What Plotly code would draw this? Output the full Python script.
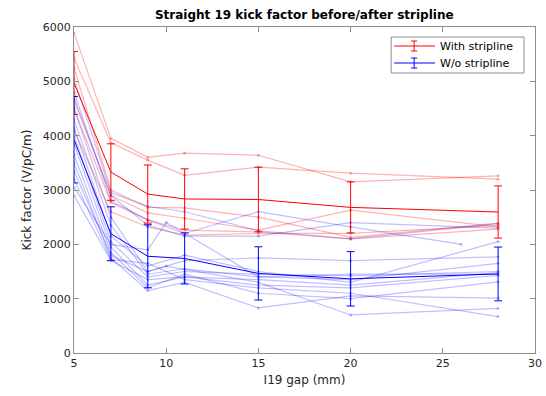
import plotly.graph_objects as go

GAP = [5, 7, 9, 11, 15, 20, 28]
X_TICKS = [5, 10, 15, 20, 25, 30]
Y_TICKS = [0, 1000, 2000, 3000, 4000, 5000, 6000]

red_mean = [4970, 3330, 2925, 2835, 2825, 2680, 2595]
red_err = [580, 520, 535, 555, 595, 470, 480]
blue_mean = [3925, 2195, 1780, 1740, 1465, 1365, 1455]
blue_err = [795, 495, 580, 470, 490, 500, 495]

red_runs_x = [GAP, GAP, GAP, GAP, GAP, GAP]
red_runs = [
    [5890, 3950, 3600, 3680, 3640, 3150, 3260],
    [5430, 3870, 3550, 3270, 3420, 3310, 3200],
    [5250, 3000, 2680, 2670, 2500, 2130, 2390],
    [4700, 2900, 2580, 2480, 2260, 2630, 2320],
    [4500, 2770, 2450, 2260, 2230, 2100, 2280],
    [4100, 2600, 2320, 2170, 2200, 2200, 2350],
]

GAP_B = [5, 7, 9, 11, 15, 20, 26]
GAP_C = [5, 7, 9, 10, 15, 20, 28]
blue_runs_x = [GAP, GAP_B, GAP, GAP, GAP, GAP, GAP, GAP, GAP, GAP, GAP_C, GAP, GAP_C, GAP]
blue_runs = [
    [5050, 2950, 2700, 2600, 2250, 2100, 2380],
    [4800, 2800, 2450, 2200, 2600, 2320, 2000],
    [4650, 2900, 2350, 2150, 2150, 2400, 2300],
    [4500, 2500, 1500, 1700, 1750, 1700, 1770],
    [4300, 2350, 1450, 1550, 1400, 1350, 1650],
    [4150, 2150, 1600, 1800, 1500, 1300, 2050],
    [4000, 2050, 1400, 1500, 1450, 1420, 1500],
    [3850, 1950, 1250, 1400, 1350, 1250, 1480],
    [3650, 1850, 1200, 1450, 1100, 1000, 1310],
    [3500, 1750, 1150, 1300, 830, 1050, 1010],
    [3350, 1800, 1500, 1600, 1300, 700, 820],
    [3200, 1720, 1650, 1350, 1200, 1100, 670],
    [3050, 2000, 1900, 2400, 1400, 1450, 1450],
    [2900, 1700, 1350, 1400, 1250, 1200, 1430],
]

LEGEND_NAMES = ["With stripline", "W/o stripline"]
LEGEND_COLORS = ["#ff0000", "#0000ff"]

FONT = "DejaVu Sans"
TXT = "#262626"
AX = "#8c8c8c"

W, H = 546, 396
L, R, T, B = 73.5, 535, 27, 353

def px_x(p):
    return (p - L) / (R - L)

def px_y(p):
    return (B - p) / (B - T)

fig = go.Figure()

for xs, ys in zip(red_runs_x, red_runs):
    fig.add_trace(go.Scatter(x=xs, y=ys, mode="lines+markers",
                             line=dict(color="rgba(255,0,0,0.3)", width=1.2),
                             marker=dict(size=3, color="rgba(255,0,0,0.3)"),
                             showlegend=False, hoverinfo="skip"))
for xs, ys in zip(blue_runs_x, blue_runs):
    fig.add_trace(go.Scatter(x=xs, y=ys, mode="lines+markers",
                             line=dict(color="rgba(0,0,255,0.25)", width=1.2),
                             marker=dict(size=3, color="rgba(0,0,255,0.25)"),
                             showlegend=False, hoverinfo="skip"))

fig.add_trace(go.Scatter(x=GAP, y=red_mean, mode="lines", name=LEGEND_NAMES[0],
                         line=dict(color=LEGEND_COLORS[0], width=1), showlegend=False,
                         error_y=dict(type="data", array=red_err, color=LEGEND_COLORS[0],
                                      thickness=1, width=4)))
fig.add_trace(go.Scatter(x=GAP, y=blue_mean, mode="lines", name=LEGEND_NAMES[1],
                         line=dict(color=LEGEND_COLORS[1], width=1), showlegend=False,
                         error_y=dict(type="data", array=blue_err, color=LEGEND_COLORS[1],
                                      thickness=1, width=4)))

# custom MATLAB-like legend box
shapes = [dict(type="rect", xref="paper", yref="paper",
               x0=px_x(391), x1=px_x(524), y0=px_y(73), y1=px_y(37),
               line=dict(color=AX, width=1), fillcolor="white", layer="above")]
annotations = []
for i, (name, col) in enumerate(zip(LEGEND_NAMES, LEGEND_COLORS)):
    yc = 46 + i * 17
    shapes.append(dict(type="line", xref="paper", yref="paper",
                       x0=px_x(394), x1=px_x(435), y0=px_y(yc), y1=px_y(yc),
                       line=dict(color=col, width=1), layer="above"))
    shapes.append(dict(type="line", xref="paper", yref="paper",
                       x0=px_x(414), x1=px_x(414), y0=px_y(yc - 5), y1=px_y(yc + 5),
                       line=dict(color=col, width=1), layer="above"))
    for dy in (-5, 5):
        shapes.append(dict(type="line", xref="paper", yref="paper",
                           x0=px_x(411), x1=px_x(417), y0=px_y(yc + dy), y1=px_y(yc + dy),
                           line=dict(color=col, width=1), layer="above"))
    annotations.append(dict(text=name, xref="paper", yref="paper",
                            x=px_x(438), y=px_y(yc), xanchor="left", yanchor="middle",
                            showarrow=False, font=dict(family=FONT, size=11, color="black")))

fig.update_layout(
    width=W, height=H,
    margin=dict(l=L, r=W - R, t=T, b=H - B),
    paper_bgcolor="white", plot_bgcolor="white",
    font=dict(family=FONT, size=11, color=TXT),
    title=dict(text="<b>Straight 19 kick factor before/after stripline</b>",
               x=(L + R) / 2 / W, xanchor="center", y=1 - 15 / H, yanchor="middle",
               font=dict(family=FONT, size=12, color="black")),
    showlegend=False,
    shapes=shapes,
    annotations=annotations,
)
fig.update_xaxes(range=[5, 30], tickvals=X_TICKS, ticks="inside", ticklen=5,
                 tickcolor=AX, showline=True, linecolor=AX, linewidth=1, mirror="ticks",
                 showgrid=False, zeroline=False, automargin=False,
                 title=dict(text="I19 gap (mm)", font=dict(family=FONT, size=12, color=TXT), standoff=6),
                 tickfont=dict(family=FONT, size=11, color=TXT))
fig.update_yaxes(range=[0, 6000], tickvals=Y_TICKS, ticks="inside", ticklen=5,
                 tickcolor=AX, showline=True, linecolor=AX, linewidth=1, mirror="ticks",
                 showgrid=False, zeroline=False, automargin=False,
                 title=dict(text="Kick factor (V/pC/m)", font=dict(family=FONT, size=12, color=TXT), standoff=8),
                 tickfont=dict(family=FONT, size=11, color=TXT))

fig.write_html("out.html", config={"displayModeBar": False, "staticPlot": True},
               post_script="document.body.style.margin='0px';document.body.style.overflow='hidden';")
